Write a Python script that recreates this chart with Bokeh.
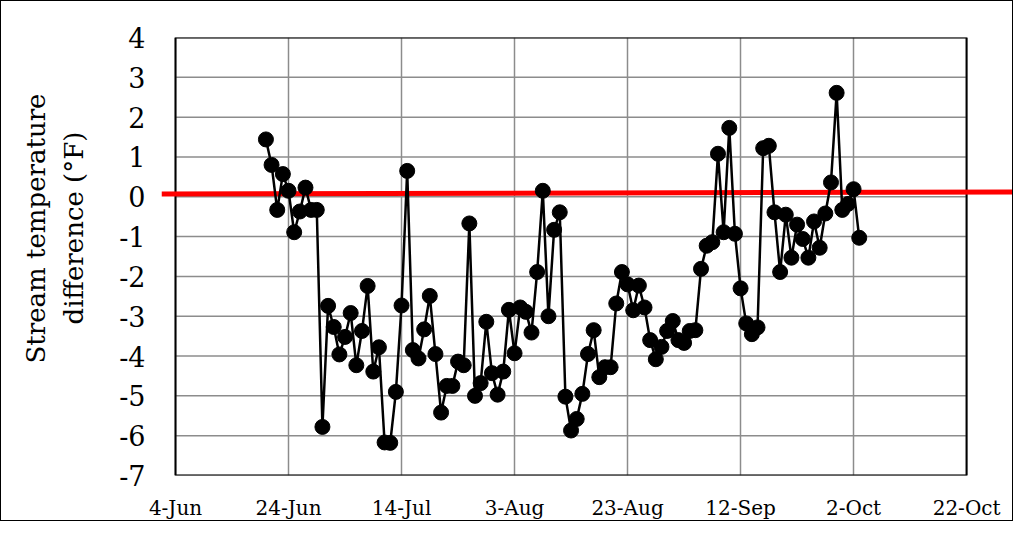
from datetime import datetime, timedelta

from bokeh.plotting import figure
from bokeh.models import FixedTicker, Range1d, Title
from bokeh.embed import file_html
from bokeh.resources import INLINE

# ---------------- data ----------------
first_date = datetime(2018, 6, 20)
temp_diff = [
    1.44, 0.80, -0.33, 0.57, 0.15, -0.89, -0.37, 0.23, -0.33, -0.33,
    -5.78, -2.74, -3.27, -3.96, -3.52, -2.92, -4.23, -3.37, -2.24, -4.39,
    -3.78, -6.17, -6.18, -4.90, -2.73, 0.65, -3.85, -4.06, -3.33, -2.49,
    -3.95, -5.42, -4.75, -4.75, -4.14, -4.23, -0.67, -5.00, -4.68, -3.14,
    -4.43, -4.97, -4.39, -2.84, -3.93, -2.78, -2.89, -3.41, -1.89, 0.15,
    -3.00, -0.83, -0.39, -5.02, -5.87, -5.58, -4.95, -3.95, -3.35, -4.53,
    -4.28, -4.28, -2.68, -1.89, -2.20, -2.85, -2.23, -2.78, -3.60, -4.08,
    -3.77, -3.37, -3.12, -3.60, -3.67, -3.37, -3.35, -1.81, -1.23, -1.14,
    1.08, -0.89, 1.73, -0.93, -2.30, -3.18, -3.45, -3.28, 1.22, 1.28,
    -0.39, -1.89, -0.45, -1.53, -0.70, -1.06, -1.53, -0.62, -1.28, -0.42,
    0.36, 2.61, -0.33, -0.18, 0.19, -1.03,
]
dates = [first_date + timedelta(days=i) for i in range(len(temp_diff))]

x_tick_labels = ["4-Jun", "24-Jun", "14-Jul", "3-Aug", "23-Aug", "12-Sep", "2-Oct", "22-Oct"]
x_tick_dates = [datetime(2018, 6, 4) + timedelta(days=20 * i) for i in range(len(x_tick_labels))]
y_ticks = [-7, -6, -5, -4, -3, -2, -1, 0, 1, 2, 3, 4]
y_tick_labels = ["-7", "-6", "-5", "-4", "-3", "-2", "-1", "0", "1", "2", "3", "4"]
ref_line_y = [0.07, 0.12]
y_title_lines = ["Stream temperature", "difference (°F)"]

EPOCH = datetime(1970, 1, 1)
DAY = 86400000.0


def ms(d):
    return (d - EPOCH).total_seconds() * 1000.0


x_tick_ms = [ms(d) for d in x_tick_dates]
x_lo = x_tick_ms[0] - 2.48 * DAY
x_hi = x_tick_ms[0] + 148.3 * DAY

FONT = "DejaVu Serif"

p = figure(
    width=1013, height=521,
    x_axis_type="datetime",
    x_range=Range1d(x_lo, x_hi),
    y_range=Range1d(y_ticks[0], y_ticks[-1]),
    output_backend="svg", toolbar_location=None,
    min_border_left=160, min_border_right=1,
    min_border_top=36, min_border_bottom=46,
)
p.outline_line_color = None
p.background_fill_color = "white"
p.border_fill_color = "white"
p.styles = {"border": "1px solid #000000"}

# grid
p.xgrid.ticker = FixedTicker(ticks=x_tick_ms)
p.xgrid.grid_line_color = "#8c8c8c"
p.xgrid.grid_line_width = 1.5
p.ygrid.grid_line_color = None
n = len(y_ticks)
p.segment(x0=[x_tick_ms[0]] * n, x1=[x_tick_ms[-1]] * n, y0=y_ticks, y1=y_ticks,
          line_color="#8c8c8c", line_width=1.5)

# plot-area box
p.quad(left=[x_tick_ms[0]], right=[x_tick_ms[-1]], bottom=[y_ticks[0]], top=[y_ticks[-1]],
       fill_color=None, line_color="black", line_width=2)

# reference line
p.line(x=[x_lo, x_hi], y=ref_line_y, line_color="#ff0000", line_width=5)

# data
p.line(x=dates, y=temp_diff, line_color="black", line_width=2.5)
p.scatter(x=dates, y=temp_diff, size=15, fill_color="black", line_color="black")

# x axis
xa = p.xaxis[0]
xa.ticker = FixedTicker(ticks=x_tick_ms)
xa.major_label_overrides = {t: lab for t, lab in zip(x_tick_ms, x_tick_labels)}
xa.axis_line_color = None
xa.major_tick_line_color = None
xa.minor_tick_line_color = None
xa.major_label_text_font = FONT
xa.major_label_text_font_size = "20px"
xa.major_label_text_color = "black"
xa.major_label_standoff = 14

# y axis
ya = p.yaxis[0]
ya.ticker = FixedTicker(ticks=y_ticks)
ya.major_label_overrides = {t: lab for t, lab in zip(y_ticks, y_tick_labels)}
ya.axis_line_color = None
ya.major_tick_line_color = None
ya.minor_tick_line_color = None
ya.major_label_text_font = FONT
ya.major_label_text_font_size = "27px"
ya.major_label_text_color = "black"
ya.major_label_standoff = 10

# gap between tick labels and the axis title
p.add_layout(Title(text=" ", standoff=25, text_font_size="1px"), "left")

# y-axis title as two stacked side titles (inner line first)
for line_text, off, gap in zip(reversed(y_title_lines), [151, 112], [0, 12]):
    p.add_layout(Title(
        text=line_text, align="left", offset=off, standoff=gap,
        vertical_align="bottom",
        text_font=FONT, text_font_size="26px", text_font_style="normal",
        text_color="black",
    ), "left")

open("out.html", "w").write(file_html(p, INLINE))
